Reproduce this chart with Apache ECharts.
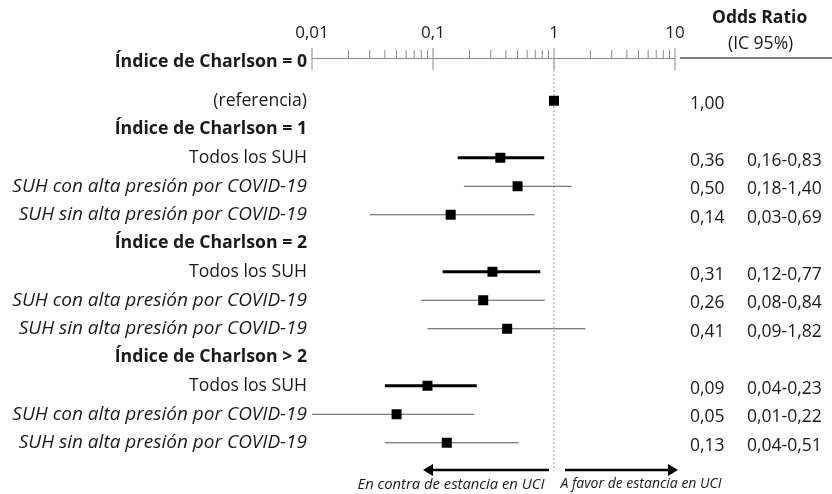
<!DOCTYPE html>
<html>
<head>
<meta charset="utf-8">
<script src="https://cdn.jsdelivr.net/npm/echarts@6/dist/echarts.min.js"></script>
<style>
  html, body { margin: 0; padding: 0; background: #fff; }
  #main { width: 832px; height: 494px; }
</style>
</head>
<body>
<div id="main"></div>
<script>
// rows, top to bottom
const rowLabels = [
  "Índice de Charlson = 0",
  "(referencia)",
  "Índice de Charlson = 1",
  "Todos los SUH",
  "SUH con alta presión por COVID-19",
  "SUH sin alta presión por COVID-19",
  "Índice de Charlson = 2",
  "Todos los SUH",
  "SUH con alta presión por COVID-19",
  "SUH sin alta presión por COVID-19",
  "Índice de Charlson > 2",
  "Todos los SUH",
  "SUH con alta presión por COVID-19",
  "SUH sin alta presión por COVID-19",
];
const oddsRatio = [null, 1.00, null, 0.36, 0.50, 0.14, null, 0.31, 0.26, 0.41, null, 0.09, 0.05, 0.13];
const ciLow     = [null, null, null, 0.16, 0.18, 0.03, null, 0.12, 0.08, 0.09, null, 0.04, 0.01, 0.04];
const ciHigh    = [null, null, null, 0.83, 1.40, 0.69, null, 0.77, 0.84, 1.82, null, 0.23, 0.22, 0.51];

const xMin = 0.01;
const xMax = 10;
const majorTicks = [0.01, 0.1, 1, 10];
const minorTicks = [
  0.02, 0.03, 0.04, 0.05, 0.06, 0.07, 0.08, 0.09,
  0.2, 0.3, 0.4, 0.5, 0.6, 0.7, 0.8, 0.9,
  2, 3, 4, 5, 6, 7, 8, 9,
];

const FONT = "Open Sans";
const TEXT = "#1a1a1a";

const fmt = (v) => v.toFixed(2).replace(".", ",");
const isHeader = (s) => s.startsWith("Índice");
const isItalic = (s) => s.startsWith("SUH");
const isThick = (s) => s.startsWith("Todos");

const ciData = [];
rowLabels.forEach((lab, i) => {
  if (oddsRatio[i] == null) return;
  ciData.push([oddsRatio[i], i, ciLow[i] == null ? "-" : ciLow[i], ciHigh[i] == null ? "-" : ciHigh[i]]);
});

const chart = echarts.init(document.getElementById("main"));

const option = {
  animation: false,
  textStyle: { fontFamily: FONT, color: TEXT },
  grid: { left: 312, right: 157, top: 58, bottom: 37 },
  xAxis: {
    type: "log",
    logBase: 10,
    min: xMin,
    max: xMax,
    position: "top",
    axisLine: { show: true, lineStyle: { color: "#8a8a8a", width: 1 } },
    axisTick: { show: false },
    splitLine: { show: false },
    axisLabel: {
      margin: 16,
      fontSize: 17,
      color: TEXT,
      fontFamily: FONT,
      formatter: (v) => String(Number(v.toPrecision(3))).replace(".", ","),
    },
  },
  yAxis: [
    {
      type: "category",
      inverse: true,
      data: rowLabels,
      axisLine: { show: false },
      axisTick: { show: false },
      splitLine: { show: false },
      axisLabel: {
        margin: 5,
        interval: 0,
        formatter: (v, i) => {
          if (isHeader(v)) return (i === 0 ? "{h0|" : "{h|") + v + "}";
          if (isItalic(v)) return "{i|" + v + "}";
          return "{n|" + v + "}";
        },
        rich: {
          h: { fontSize: 17.7, fontWeight: "bold", color: TEXT, fontFamily: FONT },
          h0: { fontSize: 17.7, fontWeight: "bold", color: TEXT, fontFamily: FONT, padding: [0, 0, 20, 0] },
          i: { fontSize: 19, fontStyle: "italic", color: TEXT, fontFamily: FONT },
          n: { fontSize: 17.6, color: TEXT, fontFamily: FONT },
        },
      },
    },
    {
      type: "category",
      inverse: true,
      position: "right",
      data: rowLabels,
      axisLine: { show: false },
      axisTick: { show: false },
      splitLine: { show: false },
      axisLabel: {
        margin: 15,
        interval: 0,
        align: "left",
        formatter: (v, i) => {
          if (oddsRatio[i] == null) return "";
          let s = "{v|" + fmt(oddsRatio[i]) + "}";
          if (ciLow[i] != null) s += "{c|" + fmt(ciLow[i]) + "-" + fmt(ciHigh[i]) + "}";
          return s;
        },
        rich: {
          v: { fontSize: 17.5, color: TEXT, fontFamily: FONT, width: 57, padding: [6, 0, 0, 0] },
          c: { fontSize: 17.5, color: TEXT, fontFamily: FONT, padding: [6, 0, 0, 0] },
        },
      },
    },
  ],
  series: [
    {
      // axis ticks + reference line at OR = 1
      type: "custom",
      silent: true,
      xAxisIndex: 0,
      yAxisIndex: 0,
      data: majorTicks.map((v) => [v, 0, 1]).concat(minorTicks.map((v) => [v, 0, 0])),
      encode: { x: 0, y: 1 },
      renderItem: (params, api) => {
        const cs = params.coordSys;
        const x = api.coord([api.value(0), 0])[0];
        const major = api.value(2) === 1;
        const children = [
          {
            type: "line",
            shape: { x1: x, y1: cs.y - (major ? 10 : 8), x2: x, y2: cs.y + (major ? 12 : 0) },
            style: { stroke: "#8a8a8a", lineWidth: 1 },
          },
        ];
        if (api.value(0) === 1) {
          children.push({
            type: "line",
            shape: { x1: x, y1: cs.y, x2: x, y2: cs.y + cs.height + 14 },
            style: { stroke: "#9a9a9a", lineWidth: 1, lineDash: [2, 2] },
          });
        }
        return { type: "group", children };
      },
    },
    {
      type: "custom",
      xAxisIndex: 0,
      yAxisIndex: 0,
      data: ciData,
      encode: { x: 0, y: 1 },
      renderItem: (params, api) => {
        const row = api.value(1);
        const p = api.coord([api.value(0), row]);
        const children = [];
        const lo = api.value(2);
        const hi = api.value(3);
        if (!isNaN(lo) && !isNaN(hi)) {
          const a = api.coord([lo, row]);
          const b = api.coord([hi, row]);
          const thick = isThick(rowLabels[row]);
          children.push({
            type: "line",
            shape: { x1: a[0], y1: p[1], x2: b[0], y2: p[1] },
            style: { stroke: thick ? "#000" : "#555", lineWidth: thick ? 3 : 1 },
          });
        }
        children.push({
          type: "rect",
          shape: { x: p[0] - 5, y: p[1] - 5, width: 10, height: 10 },
          style: { fill: "#000" },
        });
        return { type: "group", children };
      },
    },
  ],
  graphic: [
    {
      type: "text", left: 712, top: 9,
      style: { text: "Odds Ratio", font: "bold 17.5px '" + FONT + "'", fill: TEXT },
    },
    {
      type: "text", left: 728, top: 35,
      style: { text: "(IC 95%)", font: "17.5px '" + FONT + "'", fill: TEXT },
    },
    {
      type: "line",
      shape: { x1: 680, y1: 58, x2: 832, y2: 58 },
      style: { stroke: "#555", lineWidth: 1.5 },
    },
    {
      type: "line",
      shape: { x1: 549, y1: 470, x2: 426, y2: 470 },
      style: { stroke: "#000", lineWidth: 2.5 },
    },
    {
      type: "polygon",
      shape: { points: [[423, 470], [433, 464], [433, 476]] },
      style: { fill: "#000" },
    },
    {
      type: "line",
      shape: { x1: 565, y1: 470, x2: 675, y2: 470 },
      style: { stroke: "#000", lineWidth: 2.5 },
    },
    {
      type: "polygon",
      shape: { points: [[678, 470], [668, 464], [668, 476]] },
      style: { fill: "#000" },
    },
    {
      type: "text", x: 451, y: 477,
      style: { text: "En contra de estancia en UCI", font: "italic 14.8px '" + FONT + "'", fill: TEXT, align: "center" },
    },
    {
      type: "text", x: 641, y: 477,
      style: { text: "A favor de estancia en UCI", font: "italic 14px '" + FONT + "'", fill: TEXT, align: "center" },
    },
  ],
};

chart.setOption(option);
</script>
</body>
</html>
